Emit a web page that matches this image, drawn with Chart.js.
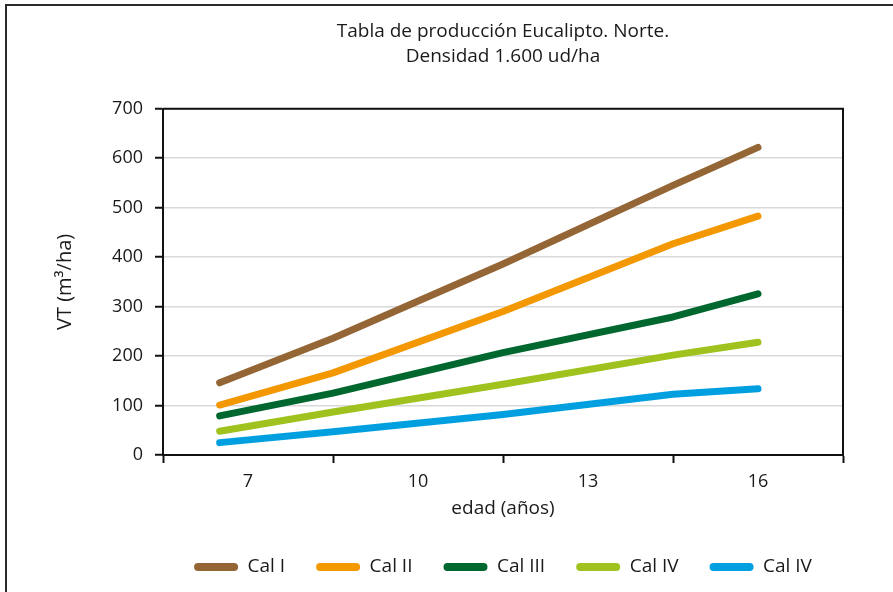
<!DOCTYPE html>
<html>
<head>
<meta charset="utf-8">
<script src="https://cdn.jsdelivr.net/npm/chart.js@4/dist/chart.umd.min.js"></script>
<style>
  html, body { margin: 0; padding: 0; background: #ffffff; }
  #wrap { position: relative; width: 893px; height: 592px; }
  #frame { position: absolute; left: 5px; top: 4px; right: 0; bottom: 0;
           border-left: 2px solid #2b2b2b; border-top: 2px solid #2b2b2b; pointer-events: none; }
  canvas { position: absolute; left: 0; top: 0; }
</style>
</head>
<body>
<div id="wrap">
  <canvas id="chart" width="893" height="592"></canvas>
  <div id="frame"></div>
</div>
<script>
// Age (years) at each measured stand point
const ages = [6.5, 8.5, 11.5, 14.5, 16];

// Total volume VT (m³/ha) per site quality class
const calI   = [146, 236, 386, 545, 622];
const calII  = [101, 166, 290, 427, 483];
const calIII = [79, 125, 207, 279, 326];
const calIV  = [48, 87, 143, 202, 228];
const calIVb = [25, 47, 82, 123, 134];

const seriesNames = ['Cal I', 'Cal II', 'Cal III', 'Cal IV', 'Cal IV'];
const seriesColors = ['#956635', '#f39800', '#00672f', '#9fc21f', '#009fe0'];

// Age labels shown on the horizontal axis; tick marks sit between them
const xTickLabels = [7, 10, 13, 16];
const xTickMarks = [5.5, 8.5, 11.5, 14.5, 17.5];
const yTicks = [0, 100, 200, 300, 400, 500, 600, 700];

const FONT = 'Open Sans';
const INK = '#1a1a1a';

const toPoints = vals => vals.map((v, i) => ({ x: ages[i], y: v }));
const allSeries = [calI, calII, calIII, calIV, calIVb];

const datasets = allSeries.map((vals, i) => ({
  label: seriesNames[i],
  data: toPoints(vals),
  borderColor: seriesColors[i],
  backgroundColor: seriesColors[i],
  borderWidth: 7,
  borderCapStyle: 'round',
  borderJoinStyle: 'round',
  pointRadius: 0,
  tension: 0
}));

// Frame on the top and right sides of the plot area
const plotFrame = {
  id: 'plotFrame',
  afterDraw(chart) {
    const { ctx, chartArea: a } = chart;
    ctx.save();
    ctx.strokeStyle = '#111';
    ctx.lineWidth = 2;
    ctx.beginPath();
    ctx.moveTo(a.left, a.top);
    ctx.lineTo(a.right, a.top);
    ctx.lineTo(a.right, a.bottom);
    ctx.stroke();
    ctx.restore();
  }
};

new Chart(document.getElementById('chart'), {
  type: 'line',
  data: { datasets },
  plugins: [plotFrame],
  options: {
    responsive: false,
    animation: false,
    layout: { padding: { left: 30, right: 50, top: 0, bottom: 5.5 } },
    plugins: {
      title: {
        display: true,
        fullSize: false,
        text: ['Tabla de producción Eucalipto. Norte.', 'Densidad 1.600 ud/ha'],
        color: INK,
        font: { family: FONT, size: 19, weight: 'normal', lineHeight: 1.27 },
        padding: { top: 20, bottom: 40.5 }
      },
      legend: {
        display: true,
        position: 'bottom',
        fullSize: false,
        labels: {
          color: INK,
          font: { family: FONT, size: 19 },
          boxWidth: 44,
          boxHeight: 8,
          useBorderRadius: true,
          borderRadius: 4,
          padding: 31,
          generateLabels(chart) {
            return Chart.defaults.plugins.legend.labels.generateLabels(chart).map(l => ({
              ...l, fillStyle: l.strokeStyle, lineWidth: 0
            }));
          }
        }
      },
      tooltip: { enabled: false }
    },
    scales: {
      x: {
        type: 'linear',
        min: 5.5,
        max: 17.5,
        afterBuildTicks(scale) {
          const vals = [...xTickMarks, ...xTickLabels].sort((a, b) => a - b);
          scale.ticks = vals.map(v => ({ value: v }));
        },
        afterFit(scale) { scale.height = 71.5; },
        ticks: {
          color: INK,
          font: { family: FONT, size: 18 },
          padding: 8,
          maxRotation: 0,
          autoSkip: false,
          callback: v => (xTickLabels.includes(v) ? String(v) : '')
        },
        grid: {
          drawOnChartArea: false,
          drawTicks: true,
          tickLength: 8,
          tickWidth: 2,
          tickColor: ctx => (ctx.tick && xTickLabels.includes(ctx.tick.value) ? 'rgba(0,0,0,0)' : '#111')
        },
        border: { display: true, color: '#111', width: 2 },
        title: {
          display: true,
          text: 'edad (años)',
          color: INK,
          font: { family: FONT, size: 19, lineHeight: 0.8 },
          padding: { top: 0, bottom: 10 }
        }
      },
      y: {
        min: 0,
        max: 700,
        afterBuildTicks(scale) { scale.ticks = yTicks.map(v => ({ value: v })); },
        afterFit(scale) { scale.width = 133; },
        ticks: {
          color: INK,
          font: { family: FONT, size: 18 },
          padding: 12
        },
        grid: {
          color: '#d9d9d9',
          lineWidth: 1.5,
          tickLength: 8,
          tickColor: '#111',
          tickWidth: 2
        },
        border: { display: true, color: '#111', width: 2 },
        title: {
          display: true,
          text: 'VT (m³/ha)',
          color: INK,
          font: { family: FONT, size: 20 },
          padding: { top: 23, bottom: 0 }
        }
      }
    }
  }
});
</script>
</body>
</html>
